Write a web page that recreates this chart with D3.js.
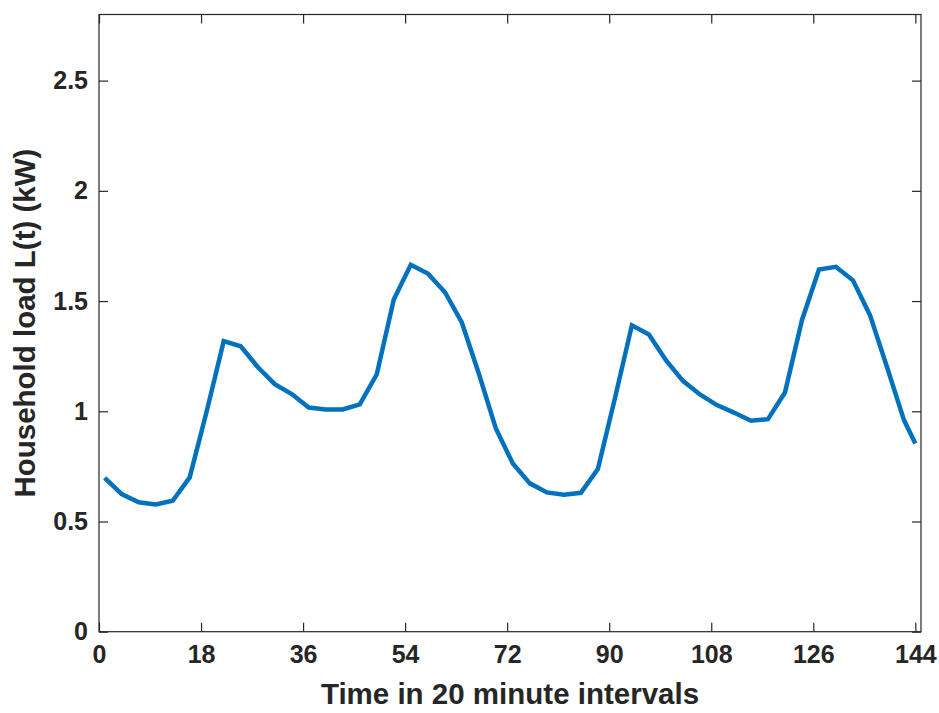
<!DOCTYPE html>
<html>
<head>
<meta charset="utf-8">
<script src="https://cdn.jsdelivr.net/npm/d3@7"></script>
<style>
  html, body { margin: 0; padding: 0; background: #fff; }
  svg { display: block; }
  text { font-family: "Liberation Sans", Arial, Helvetica, sans-serif; font-weight: bold; fill: #262626; }
</style>
</head>
<body>
<svg id="chart" width="939" height="713"></svg>
<script>
// Sample times (20-minute interval index)
const timeSteps = [1, 4, 7, 10, 13, 16, 19, 22, 25, 28, 31, 34, 37, 40, 43, 46, 49, 52, 55, 58,
  61, 64, 67, 70, 73, 76, 79, 82, 85, 88, 91, 94, 97, 100, 103, 106, 109, 112, 115, 118,
  121, 124, 127, 130, 133, 136, 139, 142, 144];

// Household load in kW at each sample
const loadKW = [0.698, 0.624, 0.587, 0.577, 0.594, 0.700, 1.000, 1.318, 1.295, 1.201,
  1.123, 1.078, 1.017, 1.008, 1.008, 1.031, 1.168, 1.507, 1.665, 1.625,
  1.541, 1.403, 1.171, 0.922, 0.763, 0.673, 0.632, 0.621, 0.630, 0.738,
  1.058, 1.390, 1.348, 1.232, 1.138, 1.076, 1.028, 0.994, 0.957, 0.964,
  1.085, 1.413, 1.643, 1.655, 1.594, 1.436, 1.201, 0.960, 0.854];

const xTicks = [0, 18, 36, 54, 72, 90, 108, 126, 144];
const yTicks = [0, 0.5, 1, 1.5, 2, 2.5];
const xLabelText = "Time in 20 minute intervals";
const yLabelText = "Household load L(t) (kW)";

const svg = d3.select("#chart");
const plotLeft = 99, plotRight = 921, plotTop = 14.5, plotBottom = 631.7;

const x = d3.scaleLinear().domain([0, 145]).range([plotLeft, plotRight]);
const y = d3.scaleLinear().domain([0, 2.8]).range([plotBottom, plotTop]);

const axisColor = "#262626";
const tickLen = 9;

// Plot box
svg.append("rect")
  .attr("x", plotLeft).attr("y", plotTop)
  .attr("width", plotRight - plotLeft).attr("height", plotBottom - plotTop)
  .attr("fill", "none").attr("stroke", axisColor).attr("stroke-width", 1.2);

// Inward ticks on all four sides
const bottomAxis = d3.axisBottom(x).tickValues(xTicks).tickSizeInner(-tickLen).tickSizeOuter(0).tickPadding(14);
const topAxis = d3.axisTop(x).tickValues(xTicks).tickSizeInner(-tickLen).tickSizeOuter(0).tickFormat("");
const leftAxis = d3.axisLeft(y).tickValues(yTicks).tickSizeInner(-tickLen).tickSizeOuter(0).tickPadding(11).tickFormat(d3.format("~g"));
const rightAxis = d3.axisRight(y).tickValues(yTicks).tickSizeInner(-tickLen).tickSizeOuter(0).tickFormat("");

function styleAxis(g) {
  g.select(".domain").remove();
  g.selectAll(".tick line").attr("stroke", axisColor).attr("stroke-width", 1.2);
  g.selectAll(".tick text")
    .attr("fill", axisColor)
    .style("font-size", "25px")
    .style("font-family", '"Liberation Sans", Arial, sans-serif')
    .style("font-weight", "bold");
}

svg.append("g").attr("transform", `translate(0,${plotBottom})`).call(bottomAxis).call(styleAxis);
svg.append("g").attr("transform", `translate(0,${plotTop})`).call(topAxis).call(styleAxis);
svg.append("g").attr("transform", `translate(${plotLeft},0)`).call(leftAxis).call(styleAxis);
svg.append("g").attr("transform", `translate(${plotRight},0)`).call(rightAxis).call(styleAxis);

// Load curve
const line = d3.line()
  .x((d, i) => x(timeSteps[i]))
  .y(d => y(d));

svg.append("path")
  .datum(loadKW)
  .attr("d", line)
  .attr("fill", "none")
  .attr("stroke", "#0072BD")
  .attr("stroke-width", 4.5)
  .attr("stroke-linejoin", "miter");

// Axis titles
svg.append("text")
  .attr("x", (plotLeft + plotRight) / 2)
  .attr("y", 704)
  .attr("text-anchor", "middle")
  .style("font-size", "29.5px")
  .text(xLabelText);

svg.append("text")
  .attr("transform", `translate(35,${(plotTop + plotBottom) / 2}) rotate(-90)`)
  .attr("text-anchor", "middle")
  .style("font-size", "29.5px")
  .text(yLabelText);
</script>
</body>
</html>
